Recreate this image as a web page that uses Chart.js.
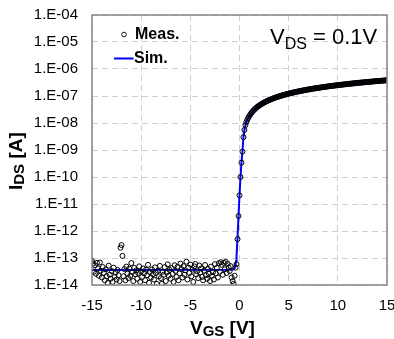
<!DOCTYPE html>
<html><head><meta charset="utf-8">
<script src="https://cdn.jsdelivr.net/npm/chart.js@4.4.0/dist/chart.umd.min.js"></script>
<style>html,body{margin:0;padding:0;background:#fff}#wrap{width:394px;height:339px;position:relative}</style>
</head><body><div id="wrap"><canvas id="c" width="394" height="339"></canvas></div>
<script>
// ---- data ----
const xTicks = [-15, -10, -5, 0, 5, 10, 15];
const yDecades = [1e-14,1e-13,1e-12,1e-11,1e-10,1e-9,1e-8,1e-7,1e-6,1e-5,1e-4];
// measured, off region: V from -15.0 to -0.3 in 0.1 V steps
const offStartV = -15.0, offStepV = 0.1;
const measOffI = [
 7.8e-14,6.2e-14,3.1e-14,5.4e-14,2.6e-14,6.6e-14,4.1e-14,2.2e-14,6.8e-14,3.4e-14,
 1.9e-14,4.6e-14,2.8e-14,1.5e-14,3.8e-14,2.1e-14,1.2e-14,5.2e-14,2.4e-14,1.7e-14,
 3.3e-14,1.3e-14,4.4e-14,2.0e-14,2.9e-14,1.6e-14,3.6e-14,2.3e-14,1.4e-14,2.4e-13,
 3.0e-13,1.2e-13,2.1e-14,3.9e-14,1.5e-14,4.8e-14,2.6e-14,1.8e-14,4.0e-14,2.2e-14,
 6.5e-14,3.0e-14,1.4e-14,4.3e-14,2.5e-14,3.5e-14,1.7e-14,2.8e-14,4.9e-14,1.3e-14,
 3.2e-14,2.0e-14,4.1e-14,2.7e-14,1.5e-14,3.7e-14,2.3e-14,5.6e-14,1.2e-14,3.0e-14,
 1.9e-14,3.8e-14,2.5e-14,1.6e-14,4.5e-14,2.8e-14,1.1e-14,3.4e-14,2.1e-14,5.1e-14,
 1.8e-14,1.1e-14,3.1e-14,2.4e-14,4.6e-14,1.4e-14,2.9e-14,5.8e-14,2.2e-14,3.6e-14,
 1.7e-14,4.2e-14,2.6e-14,1.3e-14,5.4e-14,3.3e-14,2.0e-14,4.7e-14,1.5e-14,2.7e-14,
 6.2e-14,3.9e-14,1.9e-14,5.0e-14,2.4e-14,3.5e-14,7.3e-14,1.6e-14,4.4e-14,2.8e-14,
 5.7e-14,2.1e-14,3.7e-14,1.3e-14,4.9e-14,6.0e-14,2.5e-14,3.2e-14,1.8e-14,5.3e-14,
 2.9e-14,4.1e-14,2.0e-14,1.5e-14,3.4e-14,5.5e-14,2.3e-14,1.7e-14,3.9e-14,2.6e-14,
 1.4e-14,4.8e-14,2.2e-14,3.0e-14,1.6e-14,5.9e-14,2.7e-14,4.3e-14,1.9e-14,6.4e-14,
 3.1e-14,7.0e-14,5.6e-14,2.4e-14,6.6e-14,3.8e-14,7.2e-14,2.8e-14,6.0e-14,4.4e-14,
 3.3e-14,5.0e-14,1.9e-14,1.4e-14,1.1e-14,2.2e-14,4.4e-14,5.9e-14
];
// measured, on region: V from -0.2 to 15.0 in 0.1 V steps
const onStartV = -0.2, onStepV = 0.1;
const measOnI = [
 5.0e-13,3.6e-12,2.1e-11,1.0e-10,3.4e-10,8.7e-10,3.0e-9,5.5e-9,8.3e-9,1.08e-8,1.33e-8,1.58e-8,
 1.82e-8,2.08e-8,2.34e-8,2.60e-8,2.86e-8,3.12e-8,3.38e-8,3.64e-8,3.90e-8,4.16e-8,
 4.42e-8,4.68e-8,4.94e-8,5.20e-8,5.46e-8,5.72e-8,5.98e-8,6.24e-8,6.50e-8,6.76e-8,
 7.02e-8,7.28e-8,7.54e-8,7.80e-8,8.06e-8,8.32e-8,8.58e-8,8.84e-8,9.10e-8,9.36e-8,
 9.62e-8,9.88e-8,1.014e-7,1.040e-7,1.066e-7,1.092e-7,1.118e-7,1.144e-7,1.170e-7,1.196e-7,
 1.222e-7,1.248e-7,1.274e-7,1.300e-7,1.326e-7,1.352e-7,1.378e-7,1.404e-7,1.430e-7,1.456e-7,
 1.482e-7,1.508e-7,1.534e-7,1.560e-7,1.586e-7,1.612e-7,1.638e-7,1.664e-7,1.690e-7,1.716e-7,
 1.742e-7,1.768e-7,1.794e-7,1.820e-7,1.846e-7,1.872e-7,1.898e-7,1.924e-7,1.950e-7,1.976e-7,
 2.002e-7,2.028e-7,2.054e-7,2.080e-7,2.106e-7,2.132e-7,2.158e-7,2.184e-7,2.210e-7,2.236e-7,
 2.262e-7,2.288e-7,2.314e-7,2.340e-7,2.366e-7,2.392e-7,2.418e-7,2.444e-7,2.470e-7,2.496e-7,
 2.522e-7,2.548e-7,2.574e-7,2.600e-7,2.626e-7,2.652e-7,2.678e-7,2.704e-7,2.730e-7,2.756e-7,
 2.782e-7,2.808e-7,2.834e-7,2.860e-7,2.886e-7,2.912e-7,2.938e-7,2.964e-7,2.990e-7,3.016e-7,
 3.042e-7,3.068e-7,3.094e-7,3.120e-7,3.146e-7,3.172e-7,3.198e-7,3.224e-7,3.250e-7,3.276e-7,
 3.302e-7,3.328e-7,3.354e-7,3.380e-7,3.406e-7,3.432e-7,3.458e-7,3.484e-7,3.510e-7,3.536e-7,
 3.562e-7,3.588e-7,3.614e-7,3.640e-7,3.666e-7,3.692e-7,3.718e-7,3.744e-7,3.770e-7,3.796e-7,
 3.835e-7
];
// simulation
const simV = [-15,-1,-0.6,-0.5,-0.4,-0.35,-0.3,-0.2,-0.1,0,0.1,0.2,0.3,0.4,0.5,0.6,0.7,0.8,1,1.25,1.5,2,2.5,3,4,5,6,7,8,9,10,11,12,13,14,15];
const simI = [3.6e-14,3.7e-14,3.8e-14,4.2e-14,5.5e-14,7.5e-14,1.2e-13,5.5e-13,3.6e-12,2.1e-11,1.0e-10,3.4e-10,9.0e-10,3.0e-9,5.5e-9,8.2e-9,1.07e-8,1.32e-8,1.84e-8,2.47e-8,3.12e-8,4.42e-8,5.72e-8,7.02e-8,9.62e-8,1.222e-7,1.482e-7,1.742e-7,2.002e-7,2.262e-7,2.522e-7,2.782e-7,3.042e-7,3.302e-7,3.562e-7,3.822e-7];

// ---- build ----
const measPts = [];
measOffI.forEach((v,i)=>measPts.push({x: +(offStartV + i*offStepV).toFixed(2), y: v}));
measOnI.forEach((v,i)=>measPts.push({x: +(onStartV + i*onStepV).toFixed(2), y: v}));
const simPts = simV.map((v,i)=>({x:v, y:simI[i]}));

const FONT = "'Liberation Sans', Arial, sans-serif";

function drawRich(ctx, segs, x, y){
  let cx = x;
  segs.forEach(s=>{
    ctx.font = s.font;
    ctx.fillText(s.t, cx, y + (s.dy||0));
    cx += ctx.measureText(s.t).width;
  });
}

const decor = {
  id:'decor',
  afterDatasetsDraw(chart){
    const ctx = chart.ctx, a = chart.chartArea;
    ctx.save();
    ctx.strokeStyle = '#858585'; ctx.lineWidth = 1.5;
    ctx.strokeRect(a.left, a.top, a.right-a.left, a.bottom-a.top);
    ctx.fillStyle = '#000'; ctx.textBaseline = 'alphabetic'; ctx.textAlign='left';
    // annotation
    drawRich(ctx, [{t:'V', font:'22px '+FONT},{t:'DS', font:'16px '+FONT, dy:5},{t:' = 0.1V', font:'22px '+FONT}], 270, 43.5);
    // legend
    ctx.beginPath(); ctx.arc(124, 34.5, 2.3, 0, Math.PI*2); ctx.lineWidth=0.9; ctx.strokeStyle='#000'; ctx.stroke();
    ctx.textBaseline='middle';
    ctx.font = 'bold 16px '+FONT; ctx.fillText('Meas.', 135, 35);
    ctx.beginPath(); ctx.moveTo(114, 58.5); ctx.lineTo(133.5, 58.5); ctx.strokeStyle='#0000ff'; ctx.lineWidth=2; ctx.stroke();
    ctx.fillText('Sim.', 134, 59);
    // x title
    ctx.textBaseline='alphabetic';
    drawRich(ctx, [{t:'V', font:'bold 19px '+FONT},{t:'GS', font:'bold 15px '+FONT, dy:1.5},{t:' [V]', font:'bold 19px '+FONT}], 190, 334);
    // y title
    ctx.translate(22, 190); ctx.rotate(-Math.PI/2);
    drawRich(ctx, [{t:'I', font:'bold 19px '+FONT},{t:'DS', font:'bold 15px '+FONT, dy:1.5},{t:' [A]', font:'bold 19px '+FONT}], 0, 0);
    ctx.restore();
  }
};

new Chart(document.getElementById('c'), {
  type:'scatter',
  data:{datasets:[
    {label:'Meas.', data:measPts, showLine:false, pointStyle:'circle', pointRadius:2.5, pointBorderWidth:1,
     borderColor:'#000', backgroundColor:'rgba(0,0,0,0)', pointBackgroundColor:'rgba(0,0,0,0)', pointBorderColor:'#000'},
    {label:'Sim.', data:simPts, showLine:true, pointRadius:0, borderColor:'#0000ff', borderWidth:2, fill:false, tension:0}
  ]},
  options:{
    responsive:false, animation:false, devicePixelRatio:1,
    layout:{padding:{left:0, top:15, right:7, bottom:0}, autoPadding:false},
    plugins:{legend:{display:false}, tooltip:{enabled:false}},
    scales:{
      x:{type:'linear', min:-15, max:15,
         afterBuildTicks(s){ s.ticks = xTicks.map(v=>({value:v})); },
         afterFit(s){ s.height = 54; s.paddingLeft = 0; s.paddingRight = 0; },
         ticks:{font:{family:FONT, size:15}, color:'#000', padding:12, maxRotation:0,
                callback:v=>String(v)},
         grid:{color:'#cfcfcf', lineWidth:1, drawTicks:false},
         border:{display:false, dash:[6,4]}},
      y:{type:'logarithmic', min:1e-14, max:1e-4,
         afterBuildTicks(s){ s.ticks = yDecades.map(v=>({value:v})); },
         afterFit(s){ s.width = 92; s.paddingTop = 0; s.paddingBottom = 0; },
         ticks:{font:{family:FONT, size:15}, color:'#000', padding:14,
                callback:(v)=>{ const e=Math.round(Math.log10(v)); return '1.E'+(e<0?'-':'+')+String(Math.abs(e)).padStart(2,'0'); }},
         grid:{color:'#cfcfcf', lineWidth:1, drawTicks:false},
         border:{display:false, dash:[6,4]}}
    }
  },
  plugins:[decor]
});
</script></body></html>
